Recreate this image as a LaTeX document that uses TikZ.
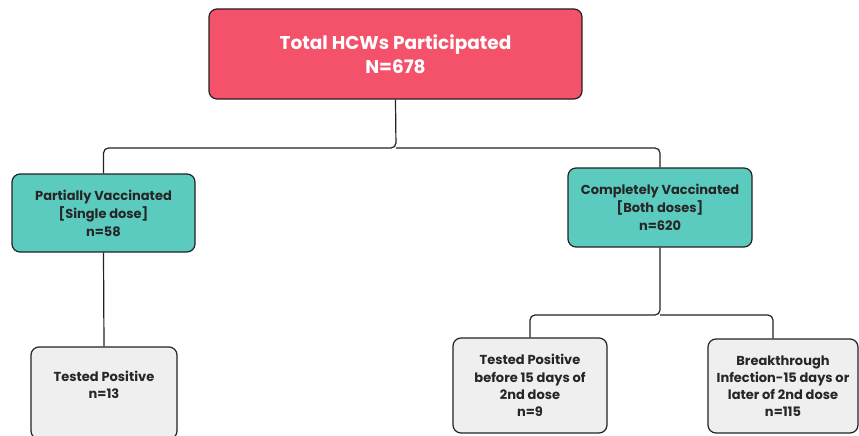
\documentclass[tikz,border=0pt]{standalone}
\usepackage{fontspec}
\setmainfont{Poppins}
\definecolor{topred}{HTML}{F4516A}
\definecolor{tealbox}{HTML}{5CCBBF}
\definecolor{greybox}{HTML}{EFEFEF}
\definecolor{edge}{HTML}{222222}
\tikzset{
  box/.style={draw=edge, line width=1.2pt, rounded corners=8pt, align=center, inner sep=2pt},
  topbox/.style={box, fill=topred, text=white, font=\fontsize{18.5}{24}\selectfont\bfseries},
  midbox/.style={box, fill=tealbox, text=black!85, font=\fontsize{13}{18}\selectfont\bfseries},
  lowbox/.style={box, fill=greybox, text=black!85, font=\fontsize{13}{17.2}\selectfont\bfseries},
  link/.style={draw=edge, line width=1.2pt, rounded corners=5pt}
}
\begin{document}
\begin{tikzpicture}[x=1pt,y=-1pt]
\useasboundingbox (0,0) rectangle (859,436);
\node[topbox, minimum width=373pt, minimum height=90pt] (top) at (395.5,54) {Total HCWs Participated\\N=678};
\node[midbox, minimum width=183pt, minimum height=78pt] (part) at (103.5,213) {Partially Vaccinated\\{}[Single dose]\\n=58};
\node[midbox, minimum width=184pt, minimum height=79pt] (comp) at (660,207.5) {Completely Vaccinated\\{}[Both doses]\\n=620};
\node[lowbox, minimum width=146pt, minimum height=92pt] (tp1) at (104,393) {Tested Positive\\n=13\\\mbox{}};
\node[lowbox, minimum width=154pt, minimum height=95pt] (tp2) at (530,385.5) {Tested Positive\\before 15 days of\\2nd dose\\n=9};
\node[lowbox, minimum width=150pt, minimum height=94pt] (bt) at (783,386) {Breakthrough\\Infection-15 days or\\later of 2nd dose\\n=115};
\coordinate (split) at (396,148);
\coordinate (split2) at (660,315);
\draw[link] (top.south) -- (split) -| (part.north);
\draw[link] (split) -| (comp.north);
\draw[link] (part.south) -- (tp1.north);
\draw[link] (comp.south) -- (split2) -| (tp2.north);
\draw[link] (split2) -| (bt.north -| 773,0);
\end{tikzpicture}
\end{document}
